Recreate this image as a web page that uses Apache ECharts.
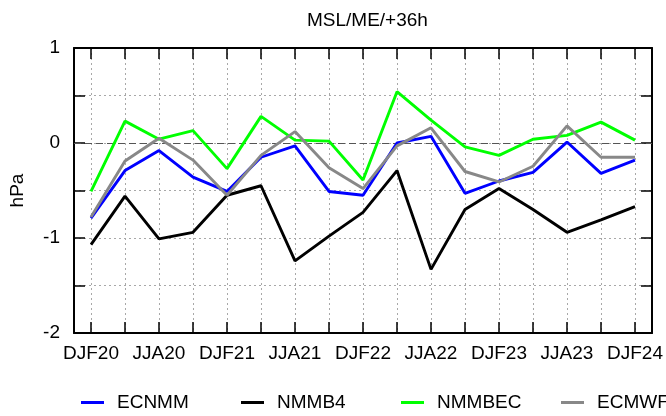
<!DOCTYPE html>
<html>
<head>
<meta charset="utf-8">
<script src="https://cdn.jsdelivr.net/npm/echarts@6/dist/echarts.min.js"></script>
<style>
  html, body { margin: 0; padding: 0; background: #fff; }
  #chart { width: 666px; height: 416px; }
</style>
</head>
<body>
<div id="chart"></div>
<script>
// Seasons on the x axis
const quarters = ['DJF20','MAM20','JJA20','SON20','DJF21','MAM21','JJA21','SON21',
                  'DJF22','MAM22','JJA22','SON22','DJF23','MAM23','JJA23','SON23','DJF24'];

// Mean error of MSL pressure at +36h (hPa), one value per season
const ecnmm  = [-0.79,-0.29,-0.08,-0.36,-0.51,-0.15,-0.03,-0.51,-0.55,0.00,0.07,-0.53,-0.40,-0.31,0.01,-0.32,-0.18];
const nmmb4  = [-1.07,-0.56,-1.01,-0.94,-0.55,-0.45,-1.24,-0.98,-0.73,-0.29,-1.33,-0.70,-0.48,-0.70,-0.94,-0.81,-0.67];
const nmmbec = [-0.51,0.23,0.04,0.13,-0.27,0.28,0.03,0.02,-0.39,0.54,0.24,-0.04,-0.13,0.04,0.08,0.22,0.03];
const ecmwf  = [-0.78,-0.19,0.05,-0.18,-0.55,-0.13,0.12,-0.26,-0.48,-0.03,0.16,-0.30,-0.41,-0.245,0.18,-0.15,-0.15];

const seriesNames = ['ECNMM', 'NMMB4', 'NMMBEC', 'ECMWF'];
const seriesData = [ecnmm, nmmb4, nmmbec, ecmwf];
const seriesColors = ['#0000ff', '#000000', '#00ff00', '#888888'];

// y axis range and tick step
const yMin = -2, yMax = 1, yStep = 0.5;

const FONT = '"Liberation Sans", Arial, sans-serif';
const tickIdx = quarters.map((q, i) => i);
const labelIdx = tickIdx.filter(i => i % 2 === 0);

const chart = echarts.init(document.getElementById('chart'), null, { renderer: 'canvas' });

const frameLine = { show: true, onZero: false, lineStyle: { color: '#000', width: 2 } };
const dotted = { show: true, lineStyle: { color: '#a8a8a8', width: 1, type: [2, 3] } };

const xBase = {
  type: 'value',
  min: -0.5,
  max: quarters.length - 0.5,
  axisLine: frameLine,
  axisTick: { show: true, inside: true, length: 11, customValues: tickIdx,
              lineStyle: { color: '#000', width: 1.5 } },
};
const yBase = {
  type: 'value',
  min: yMin,
  max: yMax,
  interval: yStep,
  axisLine: frameLine,
  axisTick: { show: true, inside: true, length: 11, lineStyle: { color: '#000', width: 1.5 } },
};

const option = {
  backgroundColor: '#fff',
  animation: false,
  title: {
    text: 'MSL/ME/+36h',
    left: 302,
    top: 6,
    textStyle: { fontFamily: FONT, fontSize: 19, fontWeight: 'normal', color: '#000' }
  },
  grid: { left: 74, right: 14, top: 48, bottom: 83, containLabel: false },
  legend: seriesNames.map((name, i) => ({
    data: [name],
    left: [81, 241, 401, 561][i],
    top: 393,
    icon: 'rect',
    itemWidth: 23,
    itemHeight: 3,
    padding: 0,
    selectedMode: false,
    textStyle: { fontFamily: FONT, fontSize: 19, color: '#000', padding: [0, 0, 0, 8] }
  })),
  xAxis: [
    Object.assign({}, xBase, {
      position: 'bottom',
      splitLine: dotted,
      axisLabel: {
        show: true, margin: 11, customValues: labelIdx,
        formatter: v => quarters[Math.round(v)],
        fontFamily: FONT, fontSize: 19, color: '#000'
      }
    }),
    Object.assign({}, xBase, {
      position: 'top',
      splitLine: { show: false },
      axisLabel: { show: false }
    })
  ],
  yAxis: [
    Object.assign({}, yBase, {
      position: 'left',
      name: 'hPa',
      nameLocation: 'middle',
      nameRotate: 90,
      nameGap: 47,
      nameTextStyle: { fontFamily: FONT, fontSize: 19, color: '#000' },
      splitLine: dotted,
      axisLabel: {
        show: true, margin: 14,
        formatter: v => (Number.isInteger(v) ? String(v) : ''),
        fontFamily: FONT, fontSize: 19, color: '#000'
      }
    }),
    Object.assign({}, yBase, {
      position: 'right',
      splitLine: { show: false },
      axisLabel: { show: false }
    })
  ],
  series: seriesNames.map((name, k) => ({
    name: name,
    type: 'line',
    xAxisIndex: 0,
    yAxisIndex: 0,
    data: seriesData[k].map((v, i) => [i, v]),
    showSymbol: false,
    symbol: 'none',
    color: seriesColors[k],
    lineStyle: { color: seriesColors[k], width: 2.9 },
    z: 3 + k,
    markLine: k === 0 ? {
      silent: true,
      symbol: 'none',
      label: { show: false },
      lineStyle: { color: '#555', width: 1.2, type: [7, 4] },
      data: [{ yAxis: 0 }],
      z: 2
    } : undefined
  }))
};

chart.setOption(option);
</script>
</body>
</html>
